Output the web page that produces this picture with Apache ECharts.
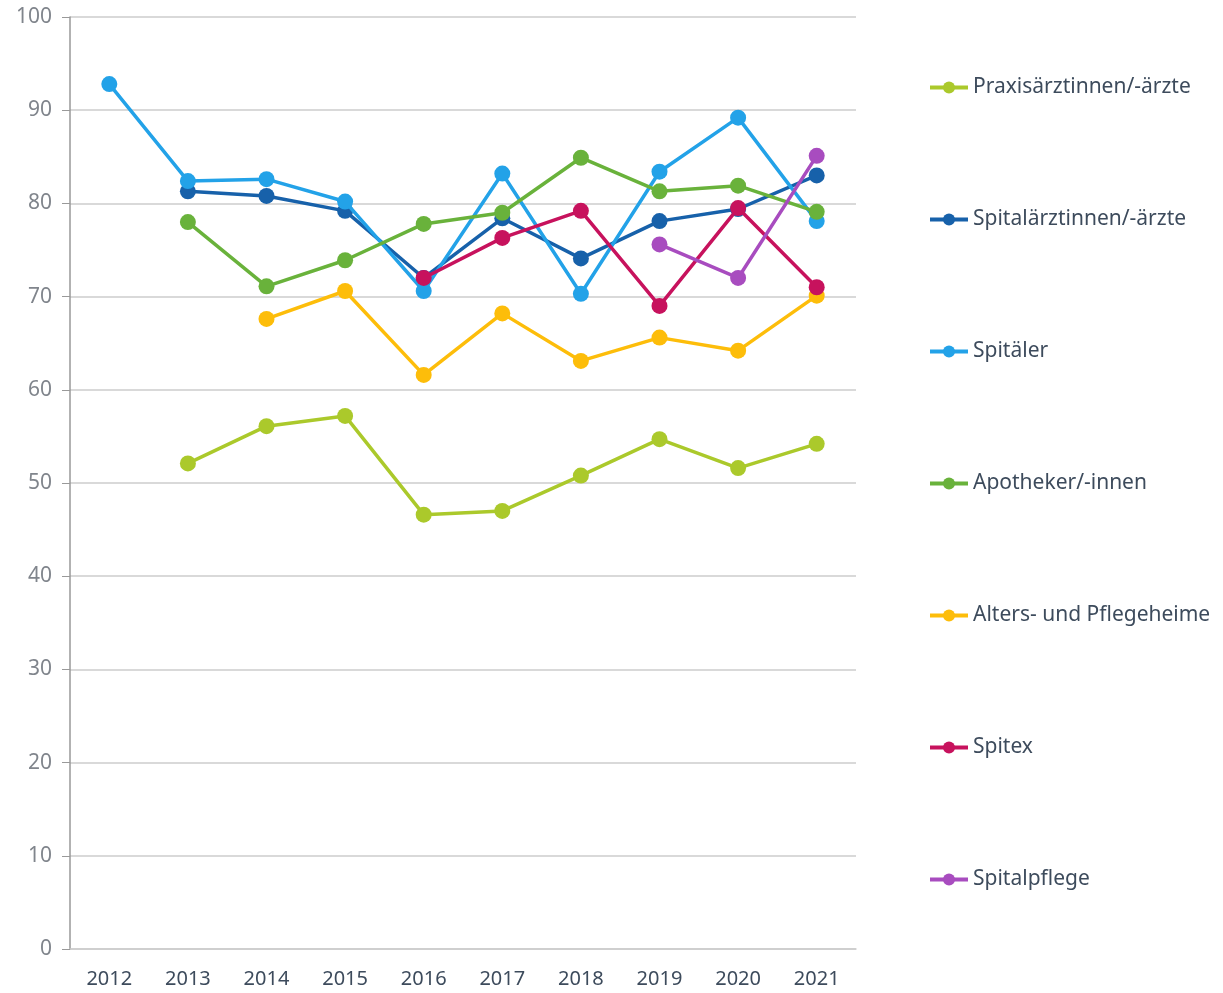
<!DOCTYPE html>
<html style="height: 100%">
<head>
    <meta charset="utf-8">
</head>
<body style="height: 100%; margin: 0; background: #fff">
    <div id="container" style="width: 1223px; height: 993px"></div>
    <script src="https://cdn.jsdelivr.net/npm/echarts@6/dist/echarts.min.js"></script>
    <script type="text/javascript">
        var years = ['2012', '2013', '2014', '2015', '2016', '2017', '2018', '2019', '2020', '2021'];
        var praxis = [null, 52.1, 56.1, 57.2, 46.6, 47.0, 50.8, 54.7, 51.6, 54.2];
        var spitalaerzte = [null, 81.3, 80.8, 79.2, 72.0, 78.4, 74.1, 78.1, 79.4, 83.0];
        var spitaeler = [92.8, 82.4, 82.6, 80.2, 70.6, 83.2, 70.3, 83.4, 89.2, 78.1];
        var apotheker = [null, 78.0, 71.1, 73.9, 77.8, 79.0, 84.9, 81.3, 81.9, 79.1];
        var altersheime = [null, null, 67.6, 70.6, 61.6, 68.2, 63.1, 65.6, 64.2, 70.1];
        var spitex = [null, null, null, null, 72.0, 76.3, 79.2, 69.0, 79.5, 71.0];
        var spitalpflege = [null, null, null, null, null, null, null, 75.6, 72.0, 85.1];

        var names = ['Praxisärztinnen/-ärzte', 'Spitalärztinnen/-ärzte', 'Spitäler',
            'Apotheker/-innen', 'Alters- und Pflegeheime', 'Spitex', 'Spitalpflege'];
        var colors = ['#abc92b', '#1761aa', '#23a2e8', '#69b23b', '#fdbd0a', '#c7125d', '#a84cbf'];
        var values = [praxis, spitalaerzte, spitaeler, apotheker, altersheime, spitex, spitalpflege];

        var font = 'Noto Sans';
        var myChart = echarts.init(document.getElementById('container'));

        var series = names.map(function (n, i) {
            return {
                name: n,
                type: 'line',
                data: values[i],
                symbol: 'circle',
                symbolSize: 16,
                color: colors[i],
                lineStyle: { width: 3.5 },
                itemStyle: { borderWidth: 0 },
                z: 2 + i
            };
        });

        myChart.setOption({
            animation: false,
            color: colors,
            grid: { left: 70, right: 367, top: 17, bottom: 44 },
            legend: {
                orient: 'vertical',
                left: 923,
                top: 72,
                itemWidth: 38,
                itemHeight: 15,
                itemGap: 111,
                lineStyle: { width: 4 },
                textStyle: { fontFamily: font, fontSize: 21, color: '#3d4b5c' },
                data: names
            },
            xAxis: {
                type: 'category',
                data: years,
                axisLine: { lineStyle: { color: '#cccccc', width: 1.5 } },
                axisTick: { show: false },
                axisLabel: { margin: 20, fontFamily: font, fontSize: 20, color: '#3d4b5c' }
            },
            yAxis: {
                type: 'value',
                min: 0,
                max: 100,
                interval: 10,
                axisLine: { show: true, lineStyle: { color: '#999999', width: 1.5 } },
                axisTick: { show: true, length: 8, lineStyle: { color: '#999999' } },
                axisLabel: { margin: 18, fontFamily: font, fontSize: 21, color: '#80858c' },
                splitLine: { lineStyle: { color: '#cccccc', width: 1.5 } }
            },
            series: series
        });
    </script>
</body>
</html>
